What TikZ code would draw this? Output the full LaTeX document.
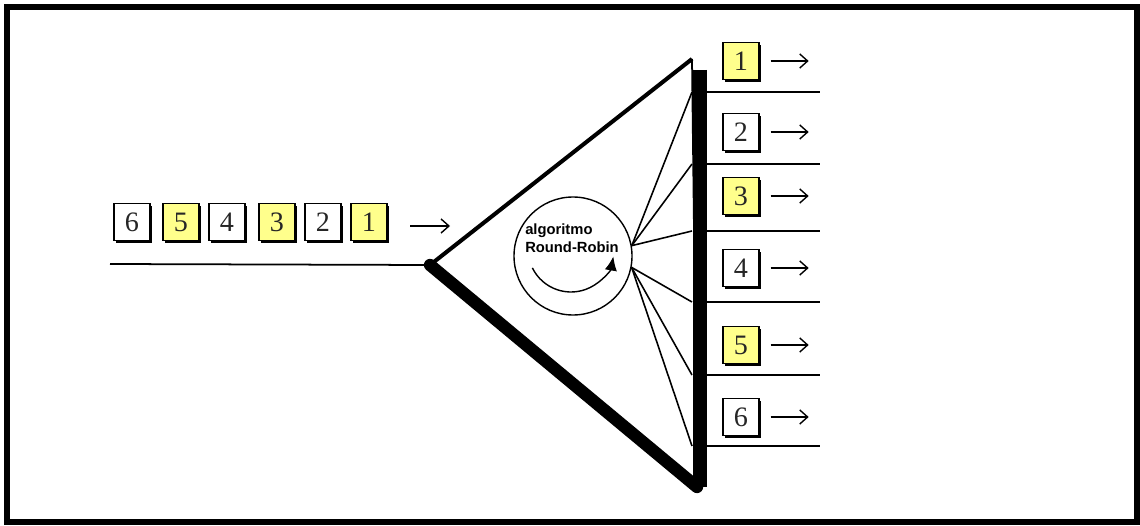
\documentclass[tikz,border=0pt]{standalone}
\usepackage{fontspec}
\setmainfont{Liberation Serif}
\newfontfamily\rrfont{Liberation Sans}
\usetikzlibrary{calc,shadows,arrows.meta}
\definecolor{pktyellow}{RGB}{255,255,140}

\begin{document}
\begin{tikzpicture}[pkt/.style = {draw, line width = 0.8pt, minimum width = 0.72cm, minimum height = 0.74cm, inner sep = 0pt, font = \fontsize{16}{16}\selectfont, text = black!85, drop shadow = {shadow xshift = 1.3pt, shadow yshift = -1.3pt, fill = black, opacity = 1}},
thin/.style = {line width = 1pt},
arr/.style = {line width = 0.8pt, -{Straight Barb[length = 4.5pt, width = 8pt]}}
]
\useasboundingbox (0,0) rectangle (22.8,10.5);
\draw[line width = 3.4pt] (0.14,0.06) rectangle (22.74,10.36);
% paquetes de entrada
\foreach \n/\x/\c in {6/2.64/white, 5/3.62/pktyellow, 4/4.54/white, 3/5.54/pktyellow, 2/6.46/white, 1/7.38/pktyellow}{\node[pkt, fill = \c] (in\n) at (\x,6.06) {\n};}
\coordinate (ia) at (8.2,5.98);
\coordinate (ib) at (9.0,5.98);
\draw[arr] (ia) -- (ib);
% balanceador
\coordinate (src) at (2.2,5.22);
\coordinate (L) at (8.6,5.2);
\coordinate (T) at (13.84,9.32);
\coordinate (B) at (13.94,0.76);
\coordinate (bt) at (14.0,9.1);
\coordinate (bb) at (14.0,0.76);
\draw[thin] (src) -- (L);
\draw[line width = 2.3pt, line join = round] (L) -- (T);
\draw[thin] (T) -- (B);
\draw[line width = 7pt, line cap = round] (L) -- (B);
\draw[line width = 8pt] (bt) -- (bb);
% algoritmo
\node[draw, circle, line width = 0.8pt, minimum size = 2.36cm, inner sep = 0pt] (rr) at (11.46,5.38) {};
\node[font = \rrfont\bfseries\fontsize{8.4}{10}\selectfont, align = left, inner sep = 0pt] (alg) at (11.44,5.74) {algoritmo\\Round-Robin};
\coordinate (ac) at (11.42,5.52);
\draw[line width = 0.8pt, -{Latex[length = 8pt, width = 7pt]}] ($(ac)+(206:0.86)$) arc[start angle = 206, end angle = 350, radius = 0.86];
% salidas
\foreach \i/\y/\s/\c in {1/9.28/8.66/pktyellow, 2/7.86/7.22/white, 3/6.58/5.88/pktyellow, 4/5.14/4.46/white, 5/3.6/3.0/pktyellow, 6/2.16/1.58/white}{
\node[pkt, fill = \c] (out\i) at (14.82,\y) {\i};
\draw[arr] ($(out\i.east)+(0.22,0)$) -- ++(0.76,0);
\coordinate (f\i) at (13.84,\s);
\draw[thin] (14.14,\s) -- (16.4,\s);
}
\foreach \i in {1,2,3}{\draw[line width = 0.9pt] (rr.10) -- (f\i);}
\foreach \i in {4,5,6}{\draw[line width = 0.9pt] (rr.-11) -- (f\i);}
\end{tikzpicture}
\end{document}
